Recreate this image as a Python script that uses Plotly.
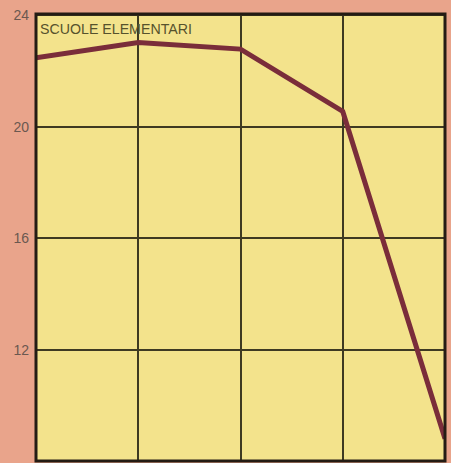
import plotly.graph_objects as go

# Data (x categories are unlabeled in the original)
periods = ["P1", "P2", "P3", "P4", "P5"]
values = [22.48, 23.03, 22.79, 20.55, 8.8]
y_ticks = [8, 12, 16, 20, 24]
title_text = "SCUOLE ELEMENTARI"

PAPER = "#E9A48B"
PLOT = "#F3E38C"
GRID = "#3e3a22"
LINE = "#7A2D3A"

fig = go.Figure()
fig.add_trace(go.Scatter(
    x=periods, y=values, mode="lines",
    line=dict(color=LINE, width=5), cliponaxis=True, hoverinfo="skip",
    showlegend=False,
))

fig.update_layout(
    width=451, height=463,
    margin=dict(l=36, r=6, t=14, b=2),
    paper_bgcolor=PAPER, plot_bgcolor=PLOT,
    font=dict(family="'Liberation Sans', sans-serif", color="#6b5850", size=13),
    xaxis=dict(
        type="category", range=[0, 4], showticklabels=False, ticks="",
        showgrid=True, gridcolor=GRID, gridwidth=1.5, zeroline=False,
        showline=False, automargin=False,
    ),
    yaxis=dict(
        range=[8, 24.05], tickvals=y_ticks, ticktext=[str(v) for v in y_ticks],
        showgrid=True, gridcolor=GRID, gridwidth=1.5, zeroline=False,
        ticks="", ticklabelstandoff=6, showline=False, automargin=False,
        tickfont=dict(size=14, color="#6b5850", family="'Liberation Sans', sans-serif"),
    ),
    shapes=[dict(
        type="rect", xref="paper", yref="paper", x0=0, x1=1, y0=0, y1=1,
        line=dict(color="#241c14", width=3), layer="above",
    )],
    annotations=[dict(
        text=title_text, xref="paper", yref="paper", x=0, y=1,
        xanchor="left", yanchor="top", xshift=2, yshift=-5, showarrow=False,
        font=dict(size=14.2, color="#56522c", family="'Liberation Sans', sans-serif"),
    )],
)

fig.write_html(
    "out.html",
    config={"displayModeBar": False},
    post_script="document.body.style.margin='0';document.body.style.overflow='hidden';",
)
